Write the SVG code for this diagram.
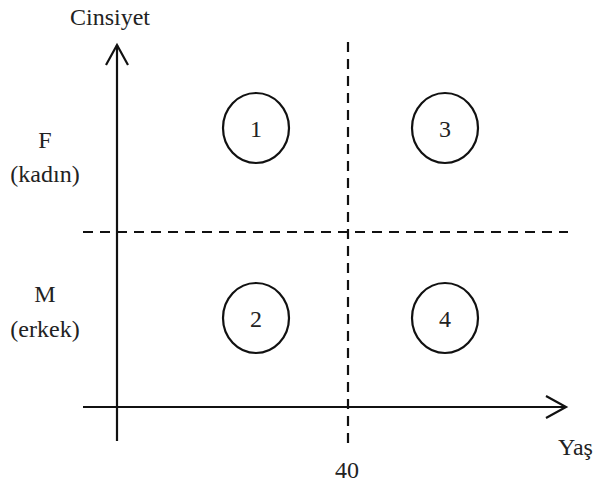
<svg xmlns="http://www.w3.org/2000/svg" width="597" height="485" viewBox="0 0 597 485">
<style>
text{fill:#222;font-size:24px}
.c{text-anchor:middle}
.axis{stroke:#111;stroke-width:2.2;fill:none}
.dash{stroke:#111;stroke-width:2.2;fill:none;stroke-dasharray:10 7}
.node ellipse{fill:#fff;stroke:#111;stroke-width:2.2}
</style>
<rect width="597" height="485" fill="#fff"/>
<g id="connectors">
<path class="dash" d="M83 232 H568"/>
<path class="dash" d="M348 42 V446"/>
<path class="axis" d="M117 441 V45"/>
<path class="axis" d="M106 65 L117 45 L128 65"/>
<path class="axis" d="M83 407 H566"/>
<path class="axis" d="M546 396 L566 407 L546 418"/>
</g>
<g font-family="'Liberation Serif', 'DejaVu Serif', serif">
<g id="n1" class="node"><ellipse cx="256" cy="128" rx="33" ry="35"/><text class="c" x="256" y="137">1</text></g>
<g id="n3" class="node"><ellipse cx="445" cy="128" rx="33" ry="35"/><text class="c" x="445" y="137">3</text></g>
<g id="n2" class="node"><ellipse cx="256" cy="318" rx="33" ry="35"/><text class="c" x="256" y="327">2</text></g>
<g id="n4" class="node"><ellipse cx="445" cy="318" rx="33" ry="35"/><text class="c" x="445" y="327">4</text></g>
<g id="labels">
<text x="70" y="25">Cinsiyet</text>
<text class="c" x="45" y="148">F</text>
<text class="c" x="45" y="182">(kadın)</text>
<text class="c" x="45" y="302">M</text>
<text class="c" x="45" y="337">(erkek)</text>
<text class="c" x="347" y="478">40</text>
<text x="558" y="455">Yaş</text>
</g>
</g>
</svg>
